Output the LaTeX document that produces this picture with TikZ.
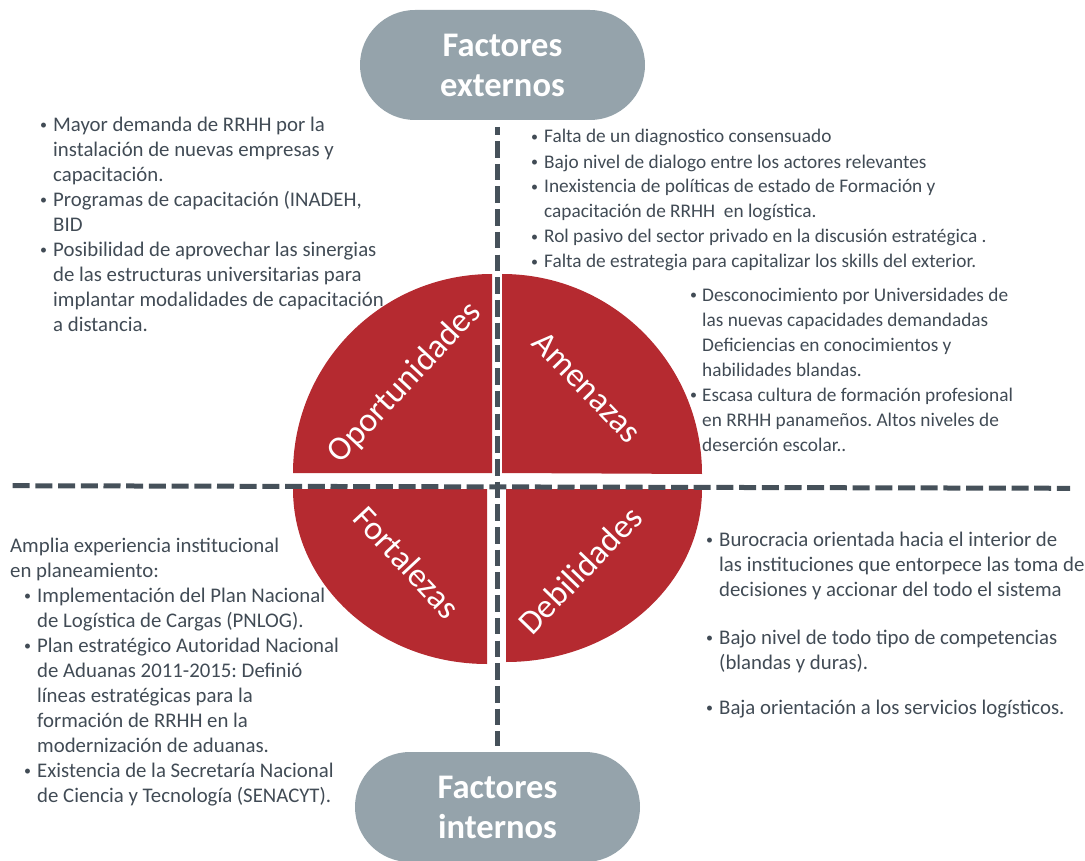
\documentclass[tikz,border=0pt]{standalone}
\usepackage{fontspec}
\setmainfont{Carlito}
\frenchspacing
\definecolor{swred}{HTML}{B52A30}
\definecolor{pillgray}{HTML}{95A3AB}
\definecolor{dashgray}{HTML}{46515A}
\definecolor{txtgray}{HTML}{414B55}
\newcommand{\bul}[1][13pt]{\makebox[#1][l]{\fontsize{14}{14}\selectfont\raisebox{1.5pt}{•}}}
\newcommand{\ind}[1][13pt]{\hspace*{#1}}
\begin{document}
\begin{tikzpicture}[x=1pt,y=-1pt,
  pill/.style={fill=pillgray, rounded corners=55pt, minimum width=285pt, minimum height=110pt,
    text=white, font=\fontsize{34.5}{40}\selectfont\bfseries, align=center, inner sep=0pt},
  quad/.style={fill=swred},
  qlabel/.style={text=white, font=\fontsize{34}{40}\selectfont, inner sep=0pt},
  dashv/.style={draw=dashgray, line width=5.5pt, dash pattern=on 16.6pt off 6.1pt, dash phase=8.6pt},
  dashh/.style={draw=dashgray, line width=5pt, dash pattern=on 17pt off 5.7pt},
  body/.style={text=txtgray, font=\fontsize{20.8}{25}\selectfont, align=left, inner sep=0pt, anchor=base west},
  bodys/.style={body, font=\fontsize{19.3}{25}\selectfont}]
\useasboundingbox (0,0) rectangle (1085,861);

% quarters
\fill[quad] (492,473) -- (293,473) arc[start angle=180, end angle=270, radius=199] -- cycle;
\fill[quad] (502,473) -- (502,274) arc[start angle=270, end angle=360, radius=200] -- cycle;
\fill[quad] (487,489) -- (293,489) arc[start angle=180, end angle=90, x radius=194, y radius=175] -- cycle;
\fill[quad] (506,489) -- (506,662) arc[start angle=90, end angle=0, x radius=196, y radius=173] -- cycle;

\node[qlabel, rotate=47] (opo) at (405,383) {Oportunidades};
\node[qlabel, rotate=-46] (ame) at (587,387) {Amenazas};
\node[qlabel, rotate=-47] (for) at (407,562) {Fortalezas};
\node[qlabel, rotate=46] (deb) at (580,570) {Debilidades};

% pills
\node[pill] (ext) at (502.5,65) {Factores\\externos};
\node[pill] (int) at (497.5,807) {Factores\\internos};

% dashed axes
\coordinate (vt) at (497.7,127);
\coordinate (vb) at (497.7,746);
\coordinate (hl) at (12.7,485.7);
\coordinate (hr) at (1070,488.3);
\draw[dashh] (hl) -- (hr);
\draw[dashv] (vt) -- (vb);

% texts (anchor = baseline of last line)
\node[body] (lt) at (40,331) {\bul Mayor demanda de RRHH por la\\
\ind instalación de nuevas empresas y\\
\ind capacitación.\\
\bul Programas de capacitación (INADEH,\\
\ind BID\\
\bul Posibilidad de aprovechar las sinergias\\
\ind de las estructuras universitarias para\\
\ind implantar modalidades de capacitación\\
\ind a distancia.};

\node[bodys] (rt) at (531,268) {\bul Falta de un diagnostico consensuado\\
\bul Bajo nivel de dialogo entre los actores relevantes\\
\bul Inexistencia de políticas de estado de Formación y\\
\ind capacitación de RRHH\ \ en logística.\\
\bul Rol pasivo del sector privado en la discusión estratégica .\\
\bul Falta de estrategia para capitalizar los skills del exterior.};

\node[bodys] (rm) at (690,451) {\bul[12pt]Desconocimiento por Universidades de\\
\ind[12pt]las nuevas capacidades demandadas\\
\ind[12pt]Deficiencias en conocimientos y\\
\ind[12pt]habilidades blandas.\\
\bul[12pt]Escasa cultura de formación profesional\\
\ind[12pt]en RRHH panameños. Altos niveles de\\
\ind[12pt]deserción escolar..};

\node[body] (lb) at (10,802) {Amplia experiencia institucional\\
en planeamiento:\\
\ind[14pt]\bul Implementación del Plan Nacional\\
\ind[27pt]de Logística de Cargas (PNLOG).\\
\ind[14pt]\bul Plan estratégico Autoridad Nacional\\
\ind[27pt]de Aduanas 2011-2015: Definió\\
\ind[27pt]líneas estratégicas para la\\
\ind[27pt]formación de RRHH en la\\
\ind[27pt]modernización de aduanas.\\
\ind[14pt]\bul Existencia de la Secretaría Nacional\\
\ind[27pt]de Ciencia y Tecnología (SENACYT).};

\node[body] (rb1) at (706,596) {\bul Burocracia orientada hacia el interior de\\
\ind las instituciones que entorpece las toma de\\
\ind decisiones y accionar del todo el sistema};
\node[body] (rb2) at (706,669) {\bul Bajo nivel de todo tipo de competencias\\
\ind (blandas y duras).};
\node[body] (rb3) at (706,714) {\bul Baja orientación a los servicios logísticos.};
\end{tikzpicture}
\end{document}
